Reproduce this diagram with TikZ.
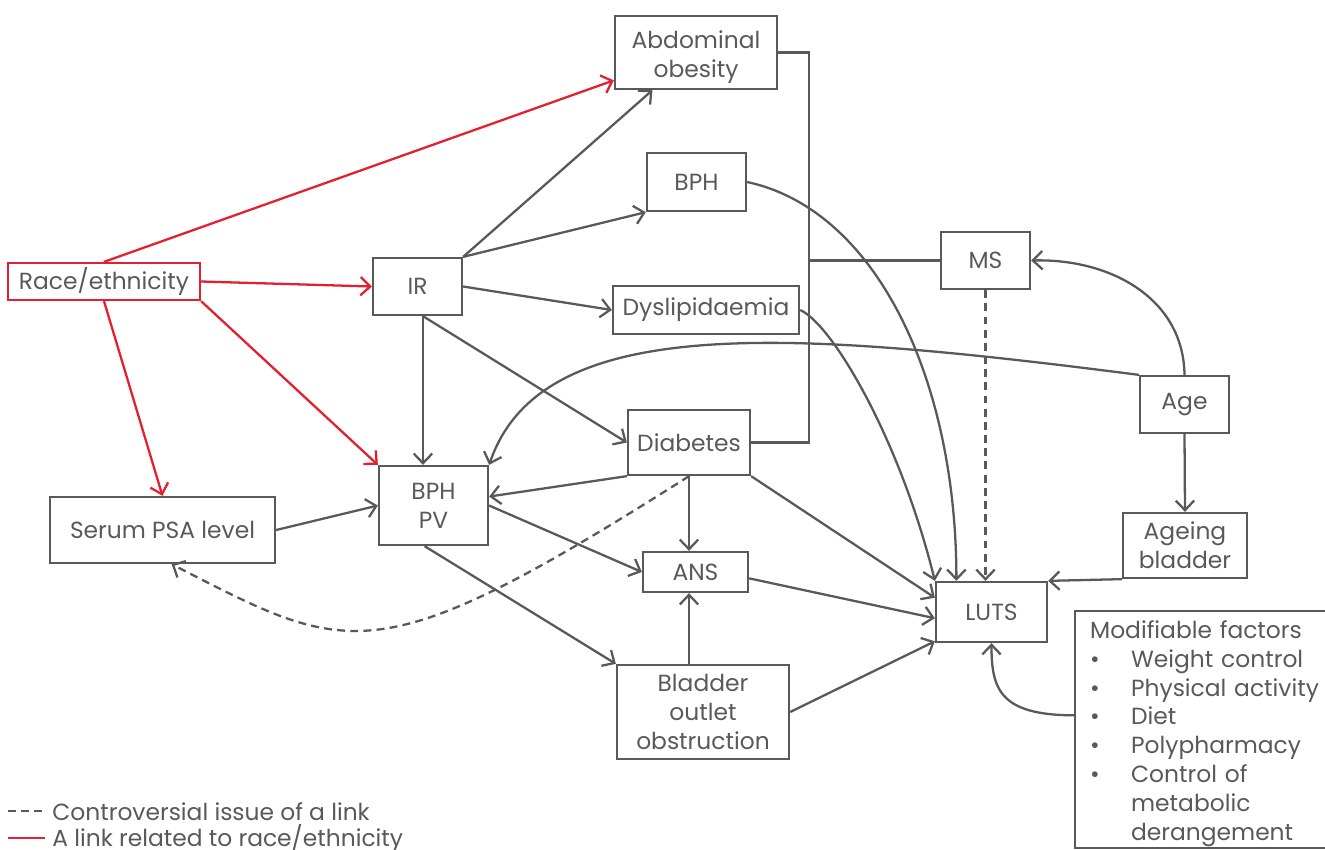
\documentclass[tikz,border=0pt]{standalone}
\usepackage{fontspec}
\setmainfont{Poppins}
\usepackage{tikz}
\usetikzlibrary{calc,arrows.meta}
\definecolor{diagray}{HTML}{595959}
\definecolor{diared}{HTML}{E3202F}
\newdimen\px
\px=0.02cm
\newcommand\bul{\makebox[41\px][l]{\textbullet}}

\tikzset{
  box/.style={draw=diagray, line width=1.3pt, text=diagray, inner sep=0pt,
              align=center, font=\fontsize{13.3}{16.4}\selectfont},
  link/.style={draw=diagray, line width=1.3pt, ->},
  racelink/.style={draw=diared, line width=1.3pt, ->},
  doubt/.style={link, dash pattern=on 4.5pt off 3pt},
  bracket/.style={draw=diagray, line width=1.3pt},
  legtext/.style={text=diagray, inner sep=0pt, anchor=base west,
              font=\fontsize{13.3}{16.4}\selectfont}
}

\begin{document}
\begin{tikzpicture}[x=1\px, y=-1\px, >={Straight Barb[length=5.5pt,width=10.5pt]}]
  \useasboundingbox (0,0) rectangle (1325,849);

  \node[box, minimum width=162\px, minimum height=73\px] (abd) at (696,52.5) {\rule{0pt}{15.5pt}Abdominal\\obesity};
  \node[box, minimum width=99\px, minimum height=58\px] (bph) at (696.5,182) {BPH};
  \node[box, draw=diared, minimum width=192\px, minimum height=37\px] (race) at (104,281.5) {Race/ethnicity};
  \node[box, minimum width=89\px, minimum height=57\px] (ir) at (417.5,286.5) {IR};
  \node[box, minimum width=186\px, minimum height=48\px] (dysl) at (706,310) {Dyslipidaemia};
  \node[box, minimum width=89\px, minimum height=57\px] (ms) at (985.5,260.5) {MS};
  \node[box, minimum width=89\px, minimum height=57\px] (age) at (1184.5,404.5) {Age};
  \node[box, minimum width=122\px, minimum height=65\px] (diab) at (689,442.5) {Diabetes};
  \node[box, minimum width=109\px, minimum height=79\px] (bphpv) at (433.5,505.5) {BPH\\PV};
  \node[box, minimum width=225\px, minimum height=66\px] (psa) at (162.5,530) {Serum PSA level};
  \node[box, minimum width=105\px, minimum height=40\px] (ans) at (695.5,572) {ANS};
  \node[box, minimum width=124\px, minimum height=65\px] (ageb) at (1185,545.5) {Ageing\\bladder};
  \node[box, minimum width=111\px, minimum height=60\px] (luts) at (991.5,612) {LUTS};
  \node[box, minimum width=172\px, minimum height=94\px] (boo) at (703,712) {Bladder\\outlet\\obstruction};
  \node[box, anchor=north west, align=left, text width=245\px, inner xsep=15\px,
        minimum height=237\px] (mod) at (1074,610) {\rule{0pt}{14.5pt}Modifiable factors\\
    \bul Weight control\\
    \bul Physical activity\\
    \bul Diet\\
    \bul Polypharmacy\\
    \bul Control of\\
    \hspace*{41\px}metabolic\\
    \hspace*{41\px}derangement};

  \draw[racelink] (race.north) -- ($(abd.north west)!0.87!(abd.south west)$);
  \draw[racelink] (race.east) -- (ir.west);
  \draw[racelink] (race.south east) -- (bphpv.north west);
  \draw[racelink] (race.south) -- (psa.north);

  \coordinate (irs) at ($(ir.south west)!0.56!(ir.south east)$);
  \draw[link] (ir.north east) -- ($(abd.south west)!0.235!(abd.south east)$);
  \draw[link] (ir.north east) -- (bph.south west);
  \draw[link] (ir.east) -- (dysl.west);
  \draw[link] (irs) -- (irs |- bphpv.north);
  \draw[link] (irs) -- (diab.west);
  \draw[link] (diab.south west) -- ($(bphpv.north east)!0.39!(bphpv.south east)$);
  \draw[link] (diab.south) -- (diab.south |- ans.north);
  \draw[link] (diab.south |- boo.north) -- (diab.south |- ans.south);
  \draw[link] (diab.south east) -- ($(luts.north west)!0.27!(luts.south west)$);
  \draw[link] (bphpv.east) -- (ans.west);
  \draw[link] ($(bphpv.south west)!0.42!(bphpv.south east)$) -- (boo.north west);
  \draw[link] (psa.east) -- (bphpv.west);
  \draw[link] ($(ans.north east)!0.65!(ans.south east)$) -- ($(luts.north west)!0.6!(luts.south west)$);
  \draw[link] (boo.east) -- ($(luts.north west)!0.97!(luts.south west)$);
  \draw[link] (bph.east) .. controls +(130,28) and +(0,-200) .. ($(luts.north west)!0.19!(luts.north east)$);
  \draw[link] (dysl.east) .. controls +(32,14) and +(-35,-142) .. (luts.north west);
  \draw[link] (age.north) .. controls +(-1,-76) and +(80,-2) .. (ms.east);
  \draw[link] (age.north west) .. controls +(-351,-45) and +(52,-153) .. (bphpv.north east);
  \draw[link] (age.south) -- (ageb.north);
  \draw[link] (ageb.south west) -- (luts.north east);
  \draw[link] ($(mod.north west)!0.44!(mod.south west)$) .. controls +(-75,0) and +(0,45) .. (luts.south);
  \draw[doubt] (ms.south) -- (ms.south |- luts.north);
  \draw[doubt] (diab.south) .. controls +(-315,200) and +(178,91) .. ($(psa.south west)!0.54!(psa.south east)$);

  \coordinate (brk) at (809,0);
  \draw[bracket] (abd.east) -| (brk |- diab.east) -- (diab.east);
  \draw[bracket] (brk |- ms.west) -- (ms.west);

  \node[legtext] (leg1) at (52,820) {Controversial issue of a link};
  \node[legtext] (leg2) at (52,846) {A link related to race/ethnicity};
  \draw[bracket, dash pattern=on 4.5pt off 3pt] (8,811) -- (45,811);
  \draw[bracket, draw=diared] (8,838) -- (45,838);
\end{tikzpicture}
\end{document}
